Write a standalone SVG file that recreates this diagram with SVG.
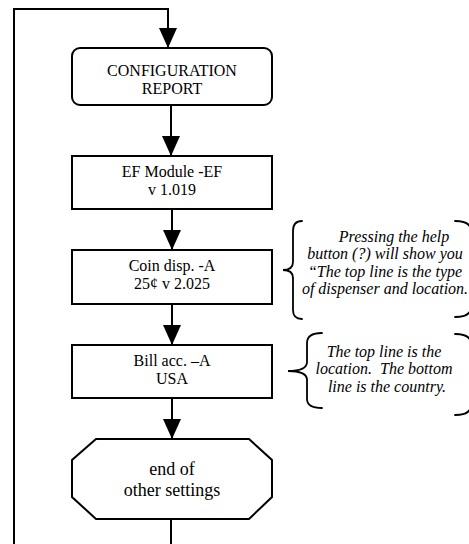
<svg xmlns="http://www.w3.org/2000/svg" width="469" height="544" viewBox="0 0 469 544">
  <defs>
    <marker id="arrow" markerUnits="userSpaceOnUse" markerWidth="20" markerHeight="20" refX="20" refY="9" orient="auto">
      <path d="M0,0 L20,9 L0,18 z" fill="#000"/>
    </marker>
    <style>
      .box { fill: #fff; stroke: #000; stroke-width: 2; }
      .line { fill: none; stroke: #000; stroke-width: 2; }
      .brace { fill: none; stroke: #000; stroke-width: 1.8; stroke-linecap: round; }
      .lbl { font-size: 16px; fill: #000; text-anchor: middle; }
      .big { font-size: 18px; }
      .note { font-size: 16px; font-style: italic; fill: #000; text-anchor: middle; }
    </style>
  </defs>

  <rect width="469" height="544" fill="#fff"/>

  <!-- connectors -->
  <g id="connectors">
    <path class="line" d="M14,544 L14,9 L168,9 L168,48" marker-end="url(#arrow)"/>
    <path class="line" d="M171,105 L171,156" marker-end="url(#arrow)"/>
    <path class="line" d="M172,209 L172,250" marker-end="url(#arrow)"/>
    <path class="line" d="M172,304 L172,345" marker-end="url(#arrow)"/>
    <path class="line" d="M172,398 L172,439" marker-end="url(#arrow)"/>
    <path class="line" d="M171,519 L171,544"/>
  </g>

  <g font-family="'Liberation Serif', Tinos, 'DejaVu Serif', serif">
    <g id="config-report">
      <rect class="box" x="72" y="48" width="200" height="57" rx="8" ry="8"/>
      <text class="lbl" x="172" y="76">CONFIGURATION</text>
      <text class="lbl" x="172" y="94">REPORT</text>
    </g>

    <g id="ef-module">
      <rect class="box" x="72" y="156" width="200" height="53"/>
      <text class="lbl" x="172" y="177">EF Module -EF</text>
      <text class="lbl" x="172" y="195">v 1.019</text>
    </g>

    <g id="coin-disp">
      <rect class="box" x="72" y="250" width="200" height="54"/>
      <text class="lbl" x="172" y="271">Coin disp. -A</text>
      <text class="lbl" x="172" y="289">25¢ v 2.025</text>
    </g>

    <g id="bill-acc">
      <rect class="box" x="72" y="345" width="200" height="53"/>
      <text class="lbl" x="172" y="366">Bill acc. –A</text>
      <text class="lbl" x="172" y="384">USA</text>
    </g>

    <g id="end-settings">
      <polygon class="box" points="96,439 249,439 272,460 272,497 249,519 96,519 72,497 72,460"/>
      <text class="lbl big" x="172" y="475">end of</text>
      <text class="lbl big" x="172" y="496">other settings</text>
    </g>

    <g id="note-coin">
      <path class="brace" d="M302,221 C296,221 293,224 293,231 L293,262 C293,267 290,270 283,270 C290,270 293,273 293,278 L293,310 C293,316 296,319 302,319"/>
      <path class="brace" d="M455,221 C465,221 471,224 471,231 L471,307 C471,314 465,317 455,317"/>
      <text class="note" x="394" y="242">Pressing the help</text>
      <text class="note" x="385" y="259">button (?) will show you</text>
      <text class="note" x="385" y="277">“The top line is the type</text>
      <text class="note" x="385" y="294">of dispenser and location.</text>
    </g>

    <g id="note-bill">
      <path class="brace" d="M322,333 C312,333 307,336 307,343 L307,362 C307,368 300,371 288,371 C300,371 307,374 307,380 L307,399 C307,405 312,408 322,408"/>
      <path class="brace" d="M455,334 C465,334 471,337 471,344 L471,405 C471,412 465,415 455,415"/>
      <text class="note" x="384" y="357">The top line is the</text>
      <text class="note" x="384" y="374">location.&#160; The bottom</text>
      <text class="note" x="387" y="392">line is the country.</text>
    </g>
  </g>
</svg>
